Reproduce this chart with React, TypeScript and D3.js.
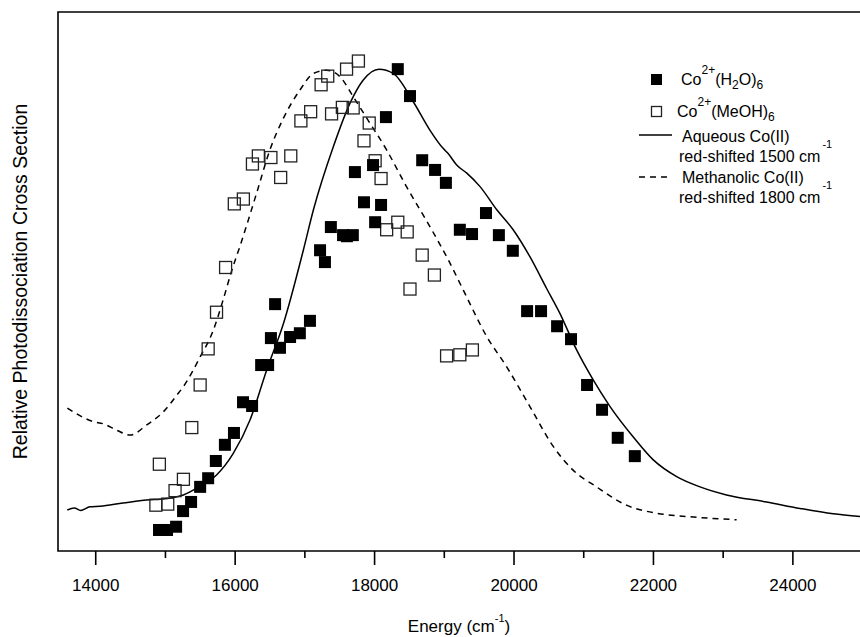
import React, { useEffect, useRef } from 'react';
import * as d3 from 'd3';

// Co2+(H2O)6 points: energy (cm-1) and relative cross section
const waterEnergy = [14915, 15030, 15160, 15260, 15375, 15505, 15620, 15730, 15860, 15990, 16120, 16250, 16380, 16480, 16520, 16580, 16650, 16795, 16935, 17080, 17225, 17295, 17380, 17555, 17610, 17695, 17725, 17855, 17985, 18015, 18100, 18170, 18340, 18515, 18690, 18875, 19030, 19230, 19405, 19605, 19790, 19990, 20195, 20395, 20625, 20825, 21055, 21270, 21495, 21740];
const waterSignal = [3.9, 3.9, 4.5, 7.4, 9.1, 11.9, 13.5, 16.7, 19.7, 21.9, 27.6, 26.9, 34.5, 34.5, 39.5, 45.8, 37.7, 39.7, 40.4, 42.7, 55.8, 53.6, 60.1, 58.6, 58.4, 58.6, 70.3, 64.7, 71.6, 61.0, 64.2, 80.5, 89.4, 84.4, 72.5, 70.7, 68.3, 59.6, 58.8, 62.7, 58.6, 55.7, 44.5, 44.5, 41.7, 39.3, 30.8, 26.2, 21.0, 17.6];

// Co2+(MeOH)6 points
const methanolEnergy = [14870, 14920, 15040, 15145, 15265, 15385, 15505, 15620, 15740, 15870, 15995, 16125, 16255, 16340, 16520, 16660, 16805, 16950, 17090, 17240, 17335, 17390, 17545, 17605, 17700, 17775, 17855, 17930, 18015, 18100, 18180, 18340, 18475, 18515, 18690, 18865, 19040, 19230, 19410];
const methanolSignal = [8.5, 16.1, 8.7, 11.2, 13.3, 22.9, 30.8, 37.5, 44.3, 52.6, 64.4, 65.3, 71.8, 73.3, 73.0, 69.3, 73.3, 79.8, 81.5, 86.5, 88.1, 81.1, 82.3, 89.4, 82.2, 90.9, 76.1, 79.4, 72.4, 69.1, 59.6, 61.0, 59.2, 48.6, 54.9, 51.2, 36.2, 36.4, 37.3];

// aqueous Co(II) solution spectrum, red-shifted 1500 cm-1
const aqueousEnergy = [13600, 13700, 13790, 13925, 14070, 14400, 14790, 14930, 15265, 15500, 15740, 15980, 16220, 16460, 16700, 16985, 17130, 17415, 17655, 17845, 18070, 18275, 18560, 18800, 18990, 19065, 19185, 19330, 19520, 19760, 19995, 20235, 20475, 20665, 20905, 21145, 21385, 21715, 22005, 22340, 22675, 23055, 23630, 24110, 24585, 24970];
const aqueousSignal = [7.6, 8.0, 7.5, 8.2, 8.3, 8.9, 9.5, 9.6, 10.4, 12.0, 14.1, 18.1, 24.3, 33.6, 42.2, 55.8, 63.3, 75.0, 83.1, 87.4, 89.4, 88.6, 83.4, 78.1, 74.7, 73.7, 71.6, 70.1, 67.6, 63.3, 59.6, 54.6, 48.7, 44.1, 37.3, 31.7, 26.8, 21.2, 16.9, 13.8, 11.9, 10.4, 9.1, 7.9, 6.9, 6.4];

// methanolic Co(II) solution spectrum, red-shifted 1800 cm-1
const methanolicEnergy = [13600, 13975, 14115, 14310, 14500, 14740, 14975, 15170, 15265, 15505, 15695, 15835, 15960, 16075, 16315, 16505, 16700, 16935, 17130, 17320, 17510, 17700, 17895, 18180, 18465, 18800, 19065, 19280, 19615, 19900, 20235, 20570, 20855, 21190, 21620, 22055, 22485, 23200];
const methanolicSignal = [26.5, 24.0, 23.6, 22.4, 21.5, 23.4, 25.8, 28.9, 30.5, 36.0, 41.0, 46.6, 52.1, 56.5, 66.4, 74.4, 80.3, 85.5, 88.6, 89.2, 88.0, 84.3, 80.3, 74.4, 67.6, 60.2, 54.0, 48.4, 39.8, 34.2, 26.8, 19.4, 15.0, 11.9, 8.5, 7.0, 6.4, 5.8];

const majorTicks = [14000, 16000, 18000, 20000, 22000, 24000];
const minorTicks = [15000, 17000, 19000, 21000, 23000];

const FONT = "Arial, 'Liberation Sans', sans-serif";

const App = () => {
  const svgRef = useRef(null);

  useEffect(() => {
    const svg = d3.select(svgRef.current);
    svg.selectAll('*').remove();

    const left = 58, right = 860, top = 12, bottom = 551;

    const x = d3.scaleLinear().domain([13466, 24970]).range([left, right]);
    const y = d3.scaleLinear().domain([0, 100]).range([bottom, top]);

    const g = svg.append('g');

    // frame (right side runs off the picture)
    g.append('path')
      .attr('d', `M${right + 2},${top}H${left}V${bottom}H${right + 2}`)
      .attr('fill', 'none')
      .attr('stroke', '#000')
      .attr('stroke-width', 1.6);

    // x axis ticks
    const major = g.append('g')
      .attr('transform', `translate(0,${bottom})`)
      .call(d3.axisBottom(x).tickValues(majorTicks).tickSize(14).tickPadding(14).tickFormat(d3.format('d')));
    const minor = g.append('g')
      .attr('transform', `translate(0,${bottom})`)
      .call(d3.axisBottom(x).tickValues(minorTicks).tickSize(7).tickFormat(() => ''));
    [major, minor].forEach(a => {
      a.select('.domain').remove();
      a.selectAll('.tick line').attr('stroke', '#000').attr('stroke-width', 1.6);
    });
    major.selectAll('.tick text')
      .attr('fill', '#000')
      .style('font-family', FONT)
      .style('font-size', '17px');

    // model curves
    const line = d3.line()
      .x(d => x(d[0]))
      .y(d => y(d[1]))
      .curve(d3.curveMonotoneX);

    g.append('path')
      .datum(d3.zip(aqueousEnergy, aqueousSignal))
      .attr('fill', 'none')
      .attr('stroke', '#000')
      .attr('stroke-width', 1.5)
      .attr('d', line);

    g.append('path')
      .datum(d3.zip(methanolicEnergy, methanolicSignal))
      .attr('fill', 'none')
      .attr('stroke', '#000')
      .attr('stroke-width', 1.5)
      .attr('stroke-dasharray', '6,5')
      .attr('d', line);

    const size = 12;

    // open squares - methanol cluster
    g.selectAll('.open')
      .data(d3.zip(methanolEnergy, methanolSignal))
      .enter().append('rect')
      .attr('class', 'open')
      .attr('x', d => x(d[0]) - size / 2)
      .attr('y', d => y(d[1]) - size / 2)
      .attr('width', size)
      .attr('height', size)
      .attr('fill', 'none')
      .attr('stroke', '#222')
      .attr('stroke-width', 1.3);

    // filled squares - water cluster
    g.selectAll('.filled')
      .data(d3.zip(waterEnergy, waterSignal))
      .enter().append('rect')
      .attr('class', 'filled')
      .attr('x', d => x(d[0]) - size / 2)
      .attr('y', d => y(d[1]) - size / 2)
      .attr('width', size)
      .attr('height', size)
      .attr('fill', '#000');

    // legend
    const lg = svg.append('g').style('font-family', FONT).style('font-size', '16px').attr('fill', '#000');

    lg.append('rect').attr('x', 651).attr('y', 74).attr('width', 11).attr('height', 11).attr('fill', '#000');
    const t1 = lg.append('text').attr('x', 681).attr('y', 85);
    t1.append('tspan').text('Co');
    t1.append('tspan').attr('dy', -11).style('font-size', '12px').text('2+');
    t1.append('tspan').attr('dy', 11).text('(H');
    t1.append('tspan').attr('dy', 4).style('font-size', '12px').text('2');
    t1.append('tspan').attr('dy', -4).text('O)');
    t1.append('tspan').attr('dy', 4).style('font-size', '12px').text('6');

    lg.append('rect').attr('x', 651.5).attr('y', 106.5).attr('width', 10).attr('height', 10)
      .attr('fill', 'none').attr('stroke', '#222').attr('stroke-width', 1.3);
    const t2 = lg.append('text').attr('x', 677).attr('y', 117);
    t2.append('tspan').text('Co');
    t2.append('tspan').attr('dy', -11).style('font-size', '12px').text('2+');
    t2.append('tspan').attr('dy', 11).text('(MeOH)');
    t2.append('tspan').attr('dy', 4).style('font-size', '12px').text('6');

    lg.append('line').attr('x1', 639).attr('x2', 672).attr('y1', 135).attr('y2', 135)
      .attr('stroke', '#000').attr('stroke-width', 1.5);
    lg.append('text').attr('x', 682).attr('y', 142).text('Aqueous Co(II)');
    const t3 = lg.append('text').attr('x', 679).attr('y', 162);
    t3.append('tspan').text('red-shifted 1500 cm');
    t3.append('tspan').attr('dy', -14).attr('dx', 2).style('font-size', '11px').text('-1');

    lg.append('line').attr('x1', 639).attr('x2', 672).attr('y1', 177).attr('y2', 177)
      .attr('stroke', '#000').attr('stroke-width', 1.5).attr('stroke-dasharray', '6,5');
    lg.append('text').attr('x', 682).attr('y', 183).text('Methanolic Co(II)');
    const t4 = lg.append('text').attr('x', 679).attr('y', 203);
    t4.append('tspan').text('red-shifted 1800 cm');
    t4.append('tspan').attr('dy', -14).attr('dx', 2).style('font-size', '11px').text('-1');

    // axis titles
    const xt = svg.append('text')
      .attr('x', (left + right) / 2)
      .attr('y', 632)
      .attr('text-anchor', 'middle')
      .style('font-family', FONT)
      .style('font-size', '17px');
    xt.append('tspan').text('Energy (cm');
    xt.append('tspan').attr('dy', -10).style('font-size', '11px').text('-1');
    xt.append('tspan').attr('dy', 10).text(')');

    svg.append('text')
      .attr('transform', `translate(27,${(top + bottom) / 2}) rotate(-90)`)
      .attr('text-anchor', 'middle')
      .style('font-family', FONT)
      .style('font-size', '19.5px')
      .text('Relative Photodissociation Cross Section');
  }, []);

  return (
    <div style={{ position: 'absolute', left: 0, top: 0, background: '#fff' }}>
      <svg ref={svgRef} width={860} height={637} style={{ display: 'block' }} />
    </div>
  );
};

export default App;
